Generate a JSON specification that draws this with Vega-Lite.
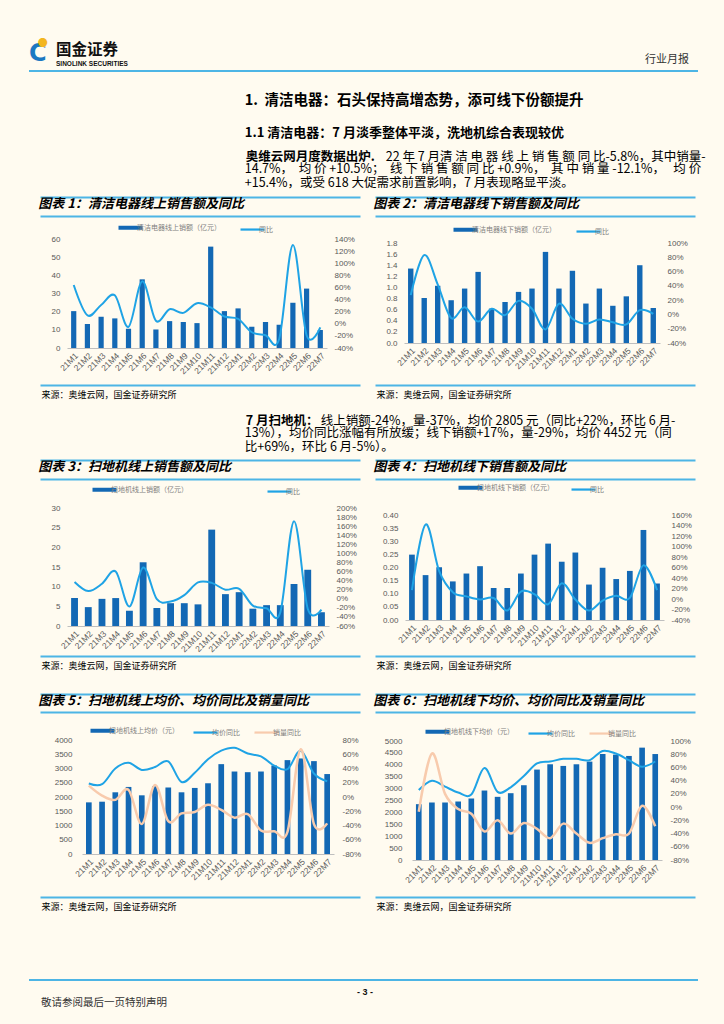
{
"$schema": "https://vega.github.io/schema/vega-lite/v6.json",
"background": "#FFFBF0",
"padding": {"left": 27, "top": 0, "right": 29, "bottom": 25},
"datasets": {
"one": [{}],
"c1": [{"m":"21M1","v":20.3,"y":64},{"m":"21M2","v":13.2,"y":14},{"m":"21M3","v":17.2,"y":31},{"m":"21M4","v":16.3,"y":47},{"m":"21M5","v":10.6,"y":-5},{"m":"21M6","v":37.8,"y":70},{"m":"21M7","v":10.2,"y":5},{"m":"21M8","v":14.8,"y":24},{"m":"21M9","v":14.3,"y":18},{"m":"21M10","v":13.7,"y":34},{"m":"21M11","v":55.8,"y":27},{"m":"21M12","v":20.3,"y":12},{"m":"22M1","v":21.8,"y":8},{"m":"22M2","v":11.7,"y":-14},{"m":"22M3","v":14.3,"y":-19},{"m":"22M4","v":12.8,"y":-25},{"m":"22M5","v":24.9,"y":130},{"m":"22M6","v":32.7,"y":-19},{"m":"22M7","v":9.9,"y":-5.8}],
"c2": [{"m":"21M1","v":1.34,"y":27},{"m":"21M2","v":0.81,"y":83},{"m":"21M3","v":1.03,"y":42},{"m":"21M4","v":0.77,"y":-5},{"m":"21M5","v":0.98,"y":10},{"m":"21M6","v":1.28,"y":-10},{"m":"21M7","v":0.62,"y":8},{"m":"21M8","v":0.74,"y":-1},{"m":"21M9","v":0.92,"y":19},{"m":"21M10","v":0.98,"y":8},{"m":"21M11","v":1.64,"y":-21},{"m":"21M12","v":0.98,"y":15},{"m":"22M1","v":1.30,"y":-6},{"m":"22M2","v":0.71,"y":-13},{"m":"22M3","v":0.98,"y":-7},{"m":"22M4","v":0.67,"y":-11},{"m":"22M5","v":0.84,"y":-14},{"m":"22M6","v":1.40,"y":6},{"m":"22M7","v":0.63,"y":0.9}],
"c3": [{"m":"21M1","v":7.1,"y":37},{"m":"21M2","v":4.8,"y":17},{"m":"21M3","v":6.9,"y":33},{"m":"21M4","v":7.1,"y":60},{"m":"21M5","v":3.9,"y":-17},{"m":"21M6","v":16.2,"y":69},{"m":"21M7","v":4.6,"y":-1},{"m":"21M8","v":5.8,"y":-6},{"m":"21M9","v":5.8,"y":8},{"m":"21M10","v":5.5,"y":36},{"m":"21M11","v":24.5,"y":35},{"m":"21M12","v":8.1,"y":20},{"m":"22M1","v":8.6,"y":22},{"m":"22M2","v":4.4,"y":-15},{"m":"22M3","v":5.3,"y":-21},{"m":"22M4","v":5.3,"y":-30},{"m":"22M5","v":10.7,"y":171},{"m":"22M6","v":14.3,"y":-22},{"m":"22M7","v":3.5,"y":-24}],
"c4": [{"m":"21M1","v":0.249,"y":17},{"m":"21M2","v":0.171,"y":142},{"m":"21M3","v":0.201,"y":53},{"m":"21M4","v":0.147,"y":13},{"m":"21M5","v":0.177,"y":5},{"m":"21M6","v":0.205,"y":-1},{"m":"21M7","v":0.122,"y":2},{"m":"21M8","v":0.122,"y":-22},{"m":"21M9","v":0.177,"y":14},{"m":"21M10","v":0.249,"y":9},{"m":"21M11","v":0.291,"y":-10},{"m":"21M12","v":0.222,"y":30},{"m":"22M1","v":0.257,"y":-1},{"m":"22M2","v":0.135,"y":-22},{"m":"22M3","v":0.199,"y":-3},{"m":"22M4","v":0.156,"y":6},{"m":"22M5","v":0.187,"y":2},{"m":"22M6","v":0.343,"y":64},{"m":"22M7","v":0.139,"y":17}],
"c5": [{"m":"21M1","p":1812,"py":19,"vy":16},{"m":"21M2","p":1835,"py":18,"vy":2},{"m":"21M3","p":2165,"py":40,"vy":-4},{"m":"21M4","p":2353,"py":48,"vy":10},{"m":"21M5","p":2059,"py":38,"vy":-38},{"m":"21M6","p":2380,"py":42,"vy":17},{"m":"21M7","p":2329,"py":50,"vy":-34},{"m":"21M8","p":2165,"py":21,"vy":-23},{"m":"21M9","p":2318,"py":34,"vy":-21},{"m":"21M10","p":2482,"py":53,"vy":-11},{"m":"21M11","p":3153,"py":65,"vy":-18},{"m":"21M12","p":2894,"py":69,"vy":-29},{"m":"22M1","p":2871,"py":61,"vy":-24},{"m":"22M2","p":2894,"py":57,"vy":-47},{"m":"22M3","p":3106,"py":44,"vy":-48},{"m":"22M4","p":3294,"py":39,"vy":-49},{"m":"22M5","p":3353,"py":65,"vy":67},{"m":"22M6","p":3259,"py":33,"vy":-38},{"m":"22M7","p":2805,"py":22,"vy":-37}],
"c6": [{"m":"21M1","p":2346,"py":26,"vy":-7},{"m":"21M2","p":2416,"py":40,"vy":81},{"m":"21M3","p":2416,"py":31,"vy":20},{"m":"21M4","p":2458,"py":22,"vy":-3},{"m":"21M5","p":2584,"py":19,"vy":-10},{"m":"21M6","p":2919,"py":59,"vy":-37},{"m":"21M7","p":2654,"py":23,"vy":-20},{"m":"21M8","p":2807,"py":30,"vy":-40},{"m":"21M9","p":3142,"py":47,"vy":-24},{"m":"21M10","p":3799,"py":66,"vy":-33},{"m":"21M11","p":4022,"py":69,"vy":-47},{"m":"21M12","p":3953,"py":73,"vy":-25},{"m":"22M1","p":4022,"py":73,"vy":-40},{"m":"22M2","p":4134,"py":71,"vy":-54},{"m":"22M3","p":4455,"py":85,"vy":-47},{"m":"22M4","p":4427,"py":81,"vy":-41},{"m":"22M5","p":4372,"py":71,"vy":-40},{"m":"22M6","p":4721,"py":61,"vy":2},{"m":"22M7","p":4452,"py":69,"vy":-29}]
},
"columns": 3,
"spacing": 0,
"bounds": "flush",
"resolve": {"scale": {"color": "independent"}},
"concat": [
{"width":1,"height":68,"data":{"name":"one"},"mark":{"type":"point","opacity":0}},
{"width":1,"height":0.001,"data":{"name":"one"},"mark":{"type":"point","opacity":0}},
{"width":1,"height":0.001,"data":{"name":"one"},"mark":{"type":"point","opacity":0}},

{"width":10,"height":0.001,"data":{"name":"one"},"mark":{"type":"point","opacity":0},"view":{"stroke":"#4DB5E5","strokeWidth":2},"title":{"text":"C","font":"DejaVu Sans","fontSize":24,"fontWeight":"bold","color":"#1B78C2","orient":"top","anchor":"start","offset":2.4,"dx":-1}},
{"width":335,"height":0.001,"data":{"name":"one"},"mark":{"type":"point","opacity":0},"view":{"stroke":"#4DB5E5","strokeWidth":2},"title":{"text":"国金证券","subtitle":"SINOLINK SECURITIES","fontSize":15.5,"fontWeight":"bold","color":"#111111","subtitleFont":"Liberation Sans","subtitleFontSize":6.5,"subtitleFontWeight":"bold","subtitleColor":"#111111","subtitlePadding":2,"orient":"top","anchor":"start","offset":1,"dx":16}},
{"width":322,"height":0.001,"data":{"name":"one"},"mark":{"type":"point","opacity":0},"view":{"stroke":"#4DB5E5","strokeWidth":2},"title":{"text":"行业月报","fontSize":11,"color":"#333333","orient":"top","anchor":"end","offset":3,"dx":-8}},

{"width":1,"height":0.001,"data":{"name":"one"},"mark":{"type":"point","opacity":0},"title":{"text":"●","fontSize":10,"color":"#F3B61F","orient":"top","anchor":"start","offset":20,"dx":10}},
{"width":1,"height":47,"data":{"name":"one"},"mark":{"type":"point","opacity":0},"title":{"text":"1.\u00a0 清洁电器：石头保持高增态势，添可线下份额提升","fontSize":14.5,"fontWeight":"bold","orient":"bottom","anchor":"start","offset":-25,"dx":207}},
{"width":1,"height":0.001,"data":{"name":"one"},"mark":{"type":"point","opacity":0}},

{"width":1,"height":0.001,"data":{"name":"one"},"mark":{"type":"point","opacity":0}},
{"width":1,"height":20,"data":{"name":"one"},"mark":{"type":"point","opacity":0},"title":{"text":"1.1 清洁电器：7 月淡季整体平淡，洗地机综合表现较优","fontSize":13,"fontWeight":"bold","orient":"bottom","anchor":"start","offset":-12,"dx":207}},
{"width":1,"height":0.001,"data":{"name":"one"},"mark":{"type":"point","opacity":0}},

{"width":1,"height":0.001,"data":{"name":"one"},"mark":{"type":"point","opacity":0},"title":{"text":"奥维云网月度数据出炉.","fontSize":12.5,"fontWeight":"bold","orient":"bottom","anchor":"start","offset":9,"dx":218}},
{"width":1,"height":58,"data":{"name":"one"},"mark":{"type":"point","opacity":0},"title":{"text":["14.7%，\u00a0 均 价 +10.5%；\u00a0 线 下 销 售 额 同 比 +0.9%，\u00a0 其 中 销 量 -12.1%，\u00a0\u00a0 均 价","+15.4%，或受 618 大促需求前置影响，7 月表现略显平淡。"],"fontSize":12.5,"lineHeight":14.6,"orient":"bottom","anchor":"start","offset":-34.4,"dx":207}},
{"width":1,"height":0.001,"data":{"name":"one"},"mark":{"type":"point","opacity":0},"title":{"text":"22 年 7 月清 洁 电 器 线 上 销 售 额 同 比-5.8%，其中销量-","fontSize":12.5,"orient":"bottom","anchor":"start","offset":9,"dx":13}},

{"width":1,"height":0.001,"data":{"name":"one"},"mark":{"type":"point","opacity":0}},
{"width":320,"height":188,"data":{"name":"c1"},
 "title":{"text":"图表 1：清洁电器线上销售额及同比","fontSize":13,"fontWeight":"bold","fontStyle":"italic","orient":"top","anchor":"start","offset":-17,"dx":1},
 "layer":[
  {"encoding":{"x":{"field":"m","type":"nominal","sort":null,"title":"来源：奥维云网，国金证券研究所","scale":{"range":[27,287],"paddingInner":0.62,"paddingOuter":0.3},"axis":{"offset":-37,"titleX":1,"titleY":42,"titleAlign":"left","titleBaseline":"top","titleAnchor":"start"}}},
   "layer":[
    {"mark":{"type":"bar"},"encoding":{"y":{"field":"v","type":"quantitative","title":null,"scale":{"domain":[0,60],"range":[151,42],"nice":false},"axis":{"offset":-27,"values":[0,10,20,30,40,50,60]}},
     "color":{"datum":"清洁电器线上销额（亿元）","type":"nominal","scale":{"domain":["清洁电器线上销额（亿元）","同比"],"range":["#1368B4","#1FA3E5"]},
      "legend":{"title":null,"orient":"top","direction":"horizontal","symbolType":"stroke","symbolSize":576,"offset":-38.5,"columnPadding":15,"labelFontSize":7,"labelColor":"#7F7F7F","labelLimit":300,"labelOffset":3,"encode":{"symbols":{"update":{"strokeWidth":{"signal":"indexof(['同比','均价同比','销量同比'], datum.value) >= 0 ? 2.2 : 4"},"stroke":{"signal":"datum.value == '销量同比' ? '#F8CBAD' : indexof(['同比','均价同比'], datum.value) >= 0 ? '#1FA3E5' : '#1368B4'"}}}}}}}},
    {"mark":{"type":"line","interpolate":"cardinal","strokeWidth":2},"encoding":{"y":{"field":"y","type":"quantitative","title":null,"scale":{"domain":[-40,140],"range":[151,42],"nice":false},"axis":{"orient":"right","offset":-33,"values":[-40,-20,0,20,40,60,80,100,120,140],"labelExpr":"datum.value + '%'"}},"color":{"datum":"同比","type":"nominal"}}}
   ],
   "resolve":{"scale":{"y":"independent"}}},
  {"mark":{"type":"point","opacity":0},"encoding":{"x":{"datum":0,"type":"quantitative","scale":{"domain":[0,1],"range":[0,320],"nice":false},"axis":null},"y":{"datum":0,"type":"quantitative","title":null,"scale":{"domain":[0,188],"range":[0,188],"nice":false},"axis":{"orient":"left","values":[0,19,188],"grid":true,"gridColor":"#4DB5E5","gridWidth":2,"labels":false,"ticks":false,"domain":false}}}}
 ],
 "resolve":{"scale":{"x":"independent","y":"independent"}}},
{"width":320,"height":188,"data":{"name":"c2"},
 "title":{"text":"图表 2：清洁电器线下销售额及同比","fontSize":13,"fontWeight":"bold","fontStyle":"italic","orient":"top","anchor":"start","offset":-17,"dx":1},
 "layer":[
  {"encoding":{"x":{"field":"m","type":"nominal","sort":null,"title":"来源：奥维云网，国金证券研究所","scale":{"range":[29,285],"paddingInner":0.6,"paddingOuter":0.3},"axis":{"offset":-42,"titleX":1,"titleY":47,"titleAlign":"left","titleBaseline":"top","titleAnchor":"start"}}},
   "layer":[
    {"mark":{"type":"bar"},"encoding":{"y":{"field":"v","type":"quantitative","title":null,"scale":{"domain":[0,1.8],"range":[146,46],"nice":false},"axis":{"offset":-29,"format":".1f","values":[0,0.2,0.4,0.6,0.8,1,1.2,1.4,1.6,1.8]}},
     "color":{"datum":"清洁电器线下销额（亿元）","type":"nominal","scale":{"domain":["清洁电器线下销额（亿元）","同比"],"range":["#1368B4","#1FA3E5"]},
      "legend":{"title":null,"orient":"top","direction":"horizontal","symbolType":"stroke","symbolSize":576,"offset":-40.5,"columnPadding":16,"labelFontSize":7,"labelColor":"#7F7F7F","labelLimit":300,"labelOffset":3,"encode":{"symbols":{"update":{"strokeWidth":{"signal":"indexof(['同比','均价同比','销量同比'], datum.value) >= 0 ? 2.2 : 4"},"stroke":{"signal":"datum.value == '销量同比' ? '#F8CBAD' : indexof(['同比','均价同比'], datum.value) >= 0 ? '#1FA3E5' : '#1368B4'"}}}}}}}},
    {"mark":{"type":"line","interpolate":"cardinal","strokeWidth":2},"encoding":{"y":{"field":"y","type":"quantitative","title":null,"scale":{"domain":[-40,100],"range":[146,46],"nice":false},"axis":{"orient":"right","offset":-35,"values":[-40,-20,0,20,40,60,80,100],"labelExpr":"datum.value + '%'"}},"color":{"datum":"同比","type":"nominal"}}}
   ],
   "resolve":{"scale":{"y":"independent"}}},
  {"mark":{"type":"point","opacity":0},"encoding":{"x":{"datum":0,"type":"quantitative","scale":{"domain":[0,1],"range":[0,320],"nice":false},"axis":null},"y":{"datum":0,"type":"quantitative","title":null,"scale":{"domain":[0,188],"range":[0,188],"nice":false},"axis":{"orient":"left","values":[0,19,188],"grid":true,"gridColor":"#4DB5E5","gridWidth":2,"labels":false,"ticks":false,"domain":false}}}}
 ],
 "resolve":{"scale":{"x":"independent","y":"independent"}}},

{"width":1,"height":0.001,"data":{"name":"one"},"mark":{"type":"point","opacity":0},"title":{"text":"7 月扫地机：","fontSize":12.5,"fontWeight":"bold","orient":"bottom","anchor":"start","offset":27,"dx":218}},
{"width":1,"height":75,"data":{"name":"one"},"mark":{"type":"point","opacity":0},"title":{"text":["13%），均价同比涨幅有所放缓；线下销额+17%，量-29%，均价 4452 元（同","比+69%，环比 6 月-5%）。"],"fontSize":12.5,"lineHeight":14.5,"orient":"bottom","anchor":"start","offset":-33.5,"dx":207}},
{"width":1,"height":0.001,"data":{"name":"one"},"mark":{"type":"point","opacity":0},"title":{"text":"线上销额-24%，量-37%，均价 2805 元（同比+22%，环比 6 月-","fontSize":12.5,"orient":"bottom","anchor":"start","offset":27,"dx":-52}},

{"width":1,"height":0.001,"data":{"name":"one"},"mark":{"type":"point","opacity":0}},
{"width":320,"height":196,"data":{"name":"c3"},
 "title":{"text":"图表 3：扫地机线上销售额及同比","fontSize":13,"fontWeight":"bold","fontStyle":"italic","orient":"top","anchor":"start","offset":-17,"dx":1},
 "layer":[
  {"encoding":{"x":{"field":"m","type":"nominal","sort":null,"title":"来源：奥维云网，国金证券研究所","scale":{"range":[27,289],"paddingInner":0.5,"paddingOuter":0.3},"axis":{"offset":-30,"titleX":1,"titleY":35,"titleAlign":"left","titleBaseline":"top","titleAnchor":"start"}}},
   "layer":[
    {"mark":{"type":"bar"},"encoding":{"y":{"field":"v","type":"quantitative","title":null,"scale":{"domain":[0,30],"range":[166,48],"nice":false},"axis":{"offset":-27,"values":[0,5,10,15,20,25,30]}},
     "color":{"datum":"扫地机线上销额（亿元）","type":"nominal","scale":{"domain":["扫地机线上销额（亿元）","同比"],"range":["#1368B4","#1FA3E5"]},
      "legend":{"title":null,"orient":"top","direction":"horizontal","symbolType":"stroke","symbolSize":576,"offset":-37.5,"columnPadding":75,"labelFontSize":7,"labelColor":"#7F7F7F","labelLimit":300,"labelOffset":3,"encode":{"symbols":{"update":{"strokeWidth":{"signal":"indexof(['同比','均价同比','销量同比'], datum.value) >= 0 ? 2.2 : 4"},"stroke":{"signal":"datum.value == '销量同比' ? '#F8CBAD' : indexof(['同比','均价同比'], datum.value) >= 0 ? '#1FA3E5' : '#1368B4'"}}}}}}}},
    {"mark":{"type":"line","interpolate":"cardinal","strokeWidth":2},"encoding":{"y":{"field":"y","type":"quantitative","title":null,"scale":{"domain":[-60,200],"range":[166,48],"nice":false},"axis":{"orient":"right","offset":-31,"values":[-60,-40,-20,0,20,40,60,80,100,120,140,160,180,200],"labelExpr":"datum.value + '%'"}},"color":{"datum":"同比","type":"nominal"}}}
   ],
   "resolve":{"scale":{"y":"independent"}}},
  {"mark":{"type":"point","opacity":0},"encoding":{"x":{"datum":0,"type":"quantitative","scale":{"domain":[0,1],"range":[0,320],"nice":false},"axis":null},"y":{"datum":0,"type":"quantitative","title":null,"scale":{"domain":[0,196],"range":[0,196],"nice":false},"axis":{"orient":"left","values":[0,19,196],"grid":true,"gridColor":"#4DB5E5","gridWidth":2,"labels":false,"ticks":false,"domain":false}}}}
 ],
 "resolve":{"scale":{"x":"independent","y":"independent"}}},
{"width":320,"height":196,"data":{"name":"c4"},
 "title":{"text":"图表 4：扫地机线下销售额及同比","fontSize":13,"fontWeight":"bold","fontStyle":"italic","orient":"top","anchor":"start","offset":-17,"dx":1},
 "layer":[
  {"encoding":{"x":{"field":"m","type":"nominal","sort":null,"title":"来源：奥维云网，国金证券研究所","scale":{"range":[30,289],"paddingInner":0.58,"paddingOuter":0.3},"axis":{"offset":-36,"titleX":1,"titleY":41,"titleAlign":"left","titleBaseline":"top","titleAnchor":"start"}}},
   "layer":[
    {"mark":{"type":"bar"},"encoding":{"y":{"field":"v","type":"quantitative","title":null,"scale":{"domain":[0,0.4],"range":[160,55],"nice":false},"axis":{"offset":-30,"format":".2f","values":[0,0.05,0.1,0.15,0.2,0.25,0.3,0.35,0.4]}},
     "color":{"datum":"扫地机线下销额（亿元）","type":"nominal","scale":{"domain":["扫地机线下销额（亿元）","同比"],"range":["#1368B4","#1FA3E5"]},
      "legend":{"title":null,"orient":"top","direction":"horizontal","symbolType":"stroke","symbolSize":576,"offset":-35.5,"columnPadding":13,"labelFontSize":7,"labelColor":"#7F7F7F","labelLimit":300,"labelOffset":3,"encode":{"symbols":{"update":{"strokeWidth":{"signal":"indexof(['同比','均价同比','销量同比'], datum.value) >= 0 ? 2.2 : 4"},"stroke":{"signal":"datum.value == '销量同比' ? '#F8CBAD' : indexof(['同比','均价同比'], datum.value) >= 0 ? '#1FA3E5' : '#1368B4'"}}}}}}}},
    {"mark":{"type":"line","interpolate":"cardinal","strokeWidth":2},"encoding":{"y":{"field":"y","type":"quantitative","title":null,"scale":{"domain":[-40,160],"range":[160,55],"nice":false},"axis":{"orient":"right","offset":-31,"values":[-40,-20,0,20,40,60,80,100,120,140,160],"labelExpr":"datum.value + '%'"}},"color":{"datum":"同比","type":"nominal"}}}
   ],
   "resolve":{"scale":{"y":"independent"}}},
  {"mark":{"type":"point","opacity":0},"encoding":{"x":{"datum":0,"type":"quantitative","scale":{"domain":[0,1],"range":[0,320],"nice":false},"axis":null},"y":{"datum":0,"type":"quantitative","title":null,"scale":{"domain":[0,196],"range":[0,196],"nice":false},"axis":{"orient":"left","values":[0,19,196],"grid":true,"gridColor":"#4DB5E5","gridWidth":2,"labels":false,"ticks":false,"domain":false}}}}
 ],
 "resolve":{"scale":{"x":"independent","y":"independent"}}},

{"width":1,"height":38,"data":{"name":"one"},"mark":{"type":"point","opacity":0}},
{"width":1,"height":0.001,"data":{"name":"one"},"mark":{"type":"point","opacity":0}},
{"width":1,"height":0.001,"data":{"name":"one"},"mark":{"type":"point","opacity":0}},

{"width":1,"height":0.001,"data":{"name":"one"},"mark":{"type":"point","opacity":0}},
{"width":320,"height":203,"data":{"name":"c5"},
 "title":{"text":"图表 5：扫地机线上均价、均价同比及销量同比","fontSize":13,"fontWeight":"bold","fontStyle":"italic","orient":"top","anchor":"start","offset":-17,"dx":1},
 "layer":[
  {"encoding":{"x":{"field":"m","type":"nominal","sort":null,"title":"来源：奥维云网，国金证券研究所","scale":{"range":[42,294],"paddingInner":0.57,"paddingOuter":0.3},"axis":{"offset":-43,"titleX":1,"titleY":48,"titleAlign":"left","titleBaseline":"top","titleAnchor":"start"}}},
   "layer":[
    {"mark":{"type":"bar"},"encoding":{"y":{"field":"p","type":"quantitative","title":null,"scale":{"domain":[0,4000],"range":[160,46],"nice":false},"axis":{"offset":-42,"format":"d","labelPadding":10,"values":[0,500,1000,1500,2000,2500,3000,3500,4000]}},
     "color":{"datum":"扫地机线上均价（元）","type":"nominal","scale":{"domain":["扫地机线上均价（元）","均价同比","销量同比"],"range":["#1368B4","#1FA3E5","#F8CBAD"]},
      "legend":{"title":null,"orient":"top","direction":"horizontal","symbolType":"stroke","symbolSize":576,"offset":-44.5,"columnPadding":10,"labelFontSize":7,"labelColor":"#7F7F7F","labelLimit":300,"labelOffset":3,"encode":{"symbols":{"update":{"strokeWidth":{"signal":"indexof(['同比','均价同比','销量同比'], datum.value) >= 0 ? 2.2 : 4"},"stroke":{"signal":"datum.value == '销量同比' ? '#F8CBAD' : indexof(['同比','均价同比'], datum.value) >= 0 ? '#1FA3E5' : '#1368B4'"}}}}}}}},
    {"layer":[
      {"mark":{"type":"line","interpolate":"cardinal","strokeWidth":2},"encoding":{"y":{"field":"py","type":"quantitative","title":null,"scale":{"domain":[-80,80],"range":[160,46],"nice":false},"axis":{"orient":"right","offset":-26,"labelPadding":8,"values":[-80,-60,-40,-20,0,20,40,60,80],"labelExpr":"datum.value + '%'"}},"color":{"datum":"均价同比","type":"nominal"}}},
      {"mark":{"type":"line","interpolate":"cardinal","strokeWidth":2.5},"encoding":{"y":{"field":"vy","type":"quantitative","title":null,"scale":{"domain":[-80,80],"range":[160,46],"nice":false},"axis":{"orient":"right","offset":-26,"labelPadding":8,"values":[-80,-60,-40,-20,0,20,40,60,80],"labelExpr":"datum.value + '%'"}},"color":{"datum":"销量同比","type":"nominal"}}}
    ]}
   ],
   "resolve":{"scale":{"y":"independent"}}},
  {"mark":{"type":"point","opacity":0},"encoding":{"x":{"datum":0,"type":"quantitative","scale":{"domain":[0,1],"range":[0,320],"nice":false},"axis":null},"y":{"datum":0,"type":"quantitative","title":null,"scale":{"domain":[0,203],"range":[0,203],"nice":false},"axis":{"orient":"left","values":[0,18,203],"grid":true,"gridColor":"#4DB5E5","gridWidth":2,"labels":false,"ticks":false,"domain":false}}}}
 ],
 "resolve":{"scale":{"x":"independent","y":"independent"}}},
{"width":320,"height":203,"data":{"name":"c6"},
 "title":{"text":"图表 6：扫地机线下均价、均价同比及销量同比","fontSize":13,"fontWeight":"bold","fontStyle":"italic","orient":"top","anchor":"start","offset":-17,"dx":1},
 "layer":[
  {"encoding":{"x":{"field":"m","type":"nominal","sort":null,"title":"来源：奥维云网，国金证券研究所","scale":{"range":[37,287],"paddingInner":0.57,"paddingOuter":0.3},"axis":{"offset":-37,"titleX":1,"titleY":42,"titleAlign":"left","titleBaseline":"top","titleAnchor":"start"}}},
   "layer":[
    {"mark":{"type":"bar"},"encoding":{"y":{"field":"p","type":"quantitative","title":null,"scale":{"domain":[0,5000],"range":[166,47],"nice":false},"axis":{"offset":-37,"format":"d","labelPadding":10,"values":[0,500,1000,1500,2000,2500,3000,3500,4000,4500,5000]}},
     "color":{"datum":"扫地机线下均价（元）","type":"nominal","scale":{"domain":["扫地机线下均价（元）","均价同比","销量同比"],"range":["#1368B4","#1FA3E5","#F8CBAD"]},
      "legend":{"title":null,"orient":"top","direction":"horizontal","symbolType":"stroke","symbolSize":576,"offset":-45.5,"columnPadding":10,"labelFontSize":7,"labelColor":"#7F7F7F","labelLimit":300,"labelOffset":3,"encode":{"symbols":{"update":{"strokeWidth":{"signal":"indexof(['同比','均价同比','销量同比'], datum.value) >= 0 ? 2.2 : 4"},"stroke":{"signal":"datum.value == '销量同比' ? '#F8CBAD' : indexof(['同比','均价同比'], datum.value) >= 0 ? '#1FA3E5' : '#1368B4'"}}}}}}}},
    {"layer":[
      {"mark":{"type":"line","interpolate":"cardinal","strokeWidth":2},"encoding":{"y":{"field":"py","type":"quantitative","title":null,"scale":{"domain":[-80,100],"range":[166,47],"nice":false},"axis":{"orient":"right","offset":-33,"labelPadding":8,"values":[-80,-60,-40,-20,0,20,40,60,80,100],"labelExpr":"datum.value + '%'"}},"color":{"datum":"均价同比","type":"nominal"}}},
      {"mark":{"type":"line","interpolate":"cardinal","strokeWidth":2.5},"encoding":{"y":{"field":"vy","type":"quantitative","title":null,"scale":{"domain":[-80,100],"range":[166,47],"nice":false},"axis":{"orient":"right","offset":-33,"labelPadding":8,"values":[-80,-60,-40,-20,0,20,40,60,80,100],"labelExpr":"datum.value + '%'"}},"color":{"datum":"销量同比","type":"nominal"}}}
    ]}
   ],
   "resolve":{"scale":{"y":"independent"}}},
  {"mark":{"type":"point","opacity":0},"encoding":{"x":{"datum":0,"type":"quantitative","scale":{"domain":[0,1],"range":[0,320],"nice":false},"axis":null},"y":{"datum":0,"type":"quantitative","title":null,"scale":{"domain":[0,203],"range":[0,203],"nice":false},"axis":{"orient":"left","values":[0,18,203],"grid":true,"gridColor":"#4DB5E5","gridWidth":2,"labels":false,"ticks":false,"domain":false}}}}
 ],
 "resolve":{"scale":{"x":"independent","y":"independent"}}},

{"width":1,"height":83,"data":{"name":"one"},"mark":{"type":"point","opacity":0}},
{"width":1,"height":0.001,"data":{"name":"one"},"mark":{"type":"point","opacity":0}},
{"width":1,"height":0.001,"data":{"name":"one"},"mark":{"type":"point","opacity":0}},

{"width":10,"height":0.001,"data":{"name":"one"},"mark":{"type":"point","opacity":0},"view":{"stroke":"#4DB5E5","strokeWidth":2}},
{"width":335,"height":0.001,"data":{"name":"one"},"mark":{"type":"point","opacity":0},"view":{"stroke":"#4DB5E5","strokeWidth":2},"title":{"text":"敬请参阅最后一页特别声明","fontSize":10.5,"color":"#333333","orient":"bottom","anchor":"start","offset":15,"dx":1}},
{"width":322,"height":0.001,"data":{"name":"one"},"mark":{"type":"point","opacity":0},"view":{"stroke":"#4DB5E5","strokeWidth":2},"title":{"text":"- 3 -","font":"Liberation Sans","fontSize":9,"fontWeight":"bold","color":"#111111","orient":"bottom","anchor":"start","offset":5,"dx":-18}}
],
"config": {
 "view": {"stroke": null},
 "font": "Noto Sans CJK SC",
 "axis": {"labelFont": "Liberation Sans", "labelFontSize": 8, "labelColor": "#595959", "ticks": false, "domain": false, "grid": false, "labelPadding": 7},
 "axisX": {"domain": true, "domainColor": "#BFBFBF", "labelAngle": -45, "labelPadding": 3, "labelFontSize": 8.5, "titleFont": "Noto Sans CJK SC", "titleFontSize": 9, "titleFontWeight": "normal", "titleColor": "#000000"},
 "legend": {"orient": "top", "direction": "horizontal", "labelFont": "Noto Sans CJK SC", "layout": {"top": {"anchor": "middle"}}},
 "title": {"font": "Noto Sans CJK SC", "color": "#000000", "anchor": "start", "fontWeight": "normal", "subtitleFont": "Noto Sans CJK SC"}
}
}
